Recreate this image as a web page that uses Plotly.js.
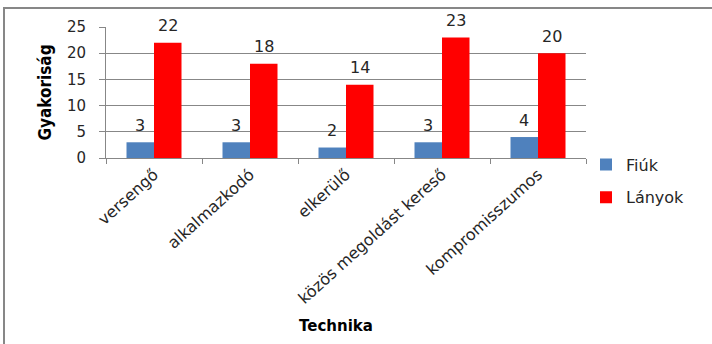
<!DOCTYPE html>
<html>
<head>
<meta charset="utf-8">
<script src="https://cdn.plot.ly/plotly-3.0.1.min.js"></script>
<style>
  html, body { margin: 0; padding: 0; background: #fff; }
  #wrap { position: relative; width: 712px; height: 344px; overflow: hidden; }
  #chart { width: 712px; height: 344px; }
  /* frame around the chart area: left and top edges */
  #frame { position: absolute; left: 3px; top: 7px; width: 760px; height: 400px;
           border-left: 2px solid #878787; border-top: 2px solid #878787;
           pointer-events: none; }
</style>
</head>
<body>
<div id="wrap"><div id="chart"></div><div id="frame"></div></div>
<script>
// Conflict-handling techniques and how often each was chosen
const categories = ['versengő', 'alkalmazkodó', 'elkerülő', 'közös megoldást kereső', 'kompromisszumos'];
const fiuk = [3, 3, 2, 3, 4];
const lanyok = [22, 18, 14, 23, 20];
const seriesNames = ['Fiúk', 'Lányok'];
const yTicks = [0, 5, 10, 15, 20, 25];
const xTitle = 'Technika';
const yTitle = 'Gyakoriság';

const seriesValues = [fiuk, lanyok];
const seriesColors = ['#4F81BD', '#FF0000'];
const txt = '#262626';
const axisGray = '#878787';

const traces = seriesValues.map((vals, i) => ({
  type: 'bar',
  name: seriesNames[i],
  legendgroup: seriesNames[i],
  x: categories,
  y: vals,
  marker: { color: seriesColors[i], line: { width: 0 } },
  hoverinfo: 'skip'
}));

// value labels above each bar (shifted to the bar's slot within the group)
const barShift = 13.8;
const annotations = [];
seriesValues.forEach((vals, i) => {
  vals.forEach((v, j) => {
    annotations.push({
      x: categories[j], y: v, xref: 'x', yref: 'y',
      text: String(v), showarrow: false,
      xshift: i === 0 ? -barShift : barShift, yshift: 17,
      yanchor: 'middle', xanchor: 'center',
      font: { family: 'DejaVu Sans', size: 16, color: txt }
    });
  });
});

// x-axis title, placed under the rotated category labels
annotations.push({
  xref: 'paper', yref: 'paper', x: 0.479, y: -1.28,
  xanchor: 'center', yanchor: 'middle', showarrow: false,
  text: xTitle,
  font: { family: 'DejaVu Sans', size: 15, weight: 700, color: '#000' }
});

const layout = {
  width: 712, height: 344,
  margin: { l: 106, r: 125.5, t: 26.7, b: 185.7, pad: 0 },
  paper_bgcolor: '#fff', plot_bgcolor: '#fff',
  bargap: 0.427, bargroupgap: 0,
  showlegend: true,
  legend: {
    x: 1.0, xanchor: 'left', y: 0.08, yanchor: 'top',
    font: { family: 'DejaVu Sans', size: 16, color: txt },
    tracegroupgap: 9, bgcolor: 'rgba(0,0,0,0)'
  },
  xaxis: {
    type: 'category', automargin: false,
    tickangle: -42, ticks: 'outside', tickson: 'boundaries', ticklen: 5,
    tickcolor: axisGray, showline: true, linecolor: axisGray, linewidth: 1,
    showgrid: false, zeroline: false,
    tickfont: { family: 'DejaVu Sans', size: 16, color: txt }
  },
  yaxis: {
    range: [0, 25], tickvals: yTicks, automargin: false,
    ticks: 'outside', ticklen: 6, tickcolor: axisGray, ticklabelstandoff: 10,
    showline: true, linecolor: axisGray, linewidth: 1,
    showgrid: true, gridcolor: axisGray, gridwidth: 1, zeroline: false,
    tickfont: { family: 'DejaVu Sans', size: 15, color: txt },
    title: { text: yTitle, standoff: 10,
             font: { family: 'Liberation Sans Narrow, DejaVu Sans Condensed', size: 17, weight: 700, color: '#000' } }
  },
  annotations: annotations
};

Plotly.newPlot('chart', traces, layout, { displayModeBar: false, staticPlot: true });
</script>
</body>
</html>
